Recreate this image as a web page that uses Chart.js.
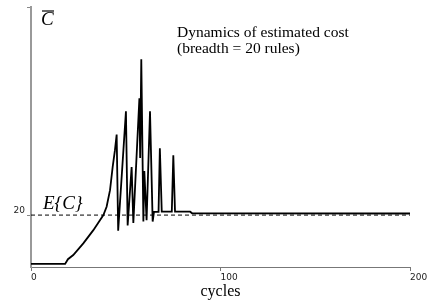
<!DOCTYPE html>
<html>
<head>
<meta charset="utf-8">
<title>Dynamics of estimated cost</title>
<script src="https://cdn.jsdelivr.net/npm/chart.js@4/dist/chart.umd.min.js"></script>
<style>
    html, body { margin: 0; padding: 0; background: #fff; }
    #chart-wrap { width: 429px; height: 306px; position: relative; }
</style>
</head>
<body>
<div id="chart-wrap"><canvas id="cost-chart"></canvas></div>
<script>
// Estimated cost per cycle (vertices)
const cycles = [0, 18, 19.5, 22.3, 27.6, 32.9, 38.2, 39.9, 41.7, 43.1, 44.3, 45.2,
    46.0, 50.1, 51.0, 53.1, 54.0, 57.2, 57.6, 58.2, 59.3, 59.8, 61.0, 62.8, 64.2,
    64.9, 67.3, 68.0, 69.0, 74.3, 75.1, 76.0, 84.0, 85.0, 200];
const costValues = [1.2, 1.2, 3.0, 4.6, 9.1, 14.2, 20.0, 23.2, 29.6, 38.6, 45.0, 51.0,
    14.0, 60.0, 16.0, 38.5, 17.0, 65.0, 42.0, 80.0, 17.5, 37.0, 18.0, 60.0, 17.5,
    21.2, 21.2, 45.7, 21.3, 21.3, 43.0, 21.3, 21.3, 20.7, 20.6];

// Expected cost E{C}
const expectedCycles = [0, 200];
const expectedValues = [20, 20];

// Axis ticks
const xTicks = [0, 100, 200];
const yTicks = [20, 100];
const yTickLabels = { 20: '20', 100: '' };

const titleLines = ['Dynamics of estimated cost', '(breadth = 20 rules)'];
const xAxisTitle = 'cycles';

document.addEventListener('DOMContentLoaded', () => {
    const ctx = document.getElementById('cost-chart').getContext('2d');

    const toPoints = (xs, ys) => xs.map((x, i) => ({ x: x, y: ys[i] }));

    // Text labels drawn onto the canvas
    const annotations = {
        id: 'annotations',
        afterDraw(chart) {
            const c = chart.ctx;
            c.save();
            c.fillStyle = '#000';
            c.strokeStyle = '#000';
            c.textBaseline = 'alphabetic';
            c.textAlign = 'left';

            // C with overline
            c.font = 'italic 19px "Liberation Serif"';
            c.fillText('C', 41, 25);
            c.lineWidth = 1.2;
            c.beginPath();
            c.moveTo(42, 11);
            c.lineTo(54, 11);
            c.stroke();

            // E{C}
            c.fillText('E{C}', 43, 209);

            // title
            c.font = '15.5px "Liberation Serif"';
            c.fillText(titleLines[0], 177, 37);
            c.fillText(titleLines[1], 177, 53);
            c.restore();
        }
    };

    new Chart(ctx, {
        type: 'line',
        data: {
            datasets: [
                {
                    label: 'Estimated cost',
                    data: toPoints(cycles, costValues),
                    borderColor: '#000',
                    borderWidth: 1.8,
                    pointRadius: 0,
                    tension: 0,
                    order: 1
                },
                {
                    label: 'E{C}',
                    data: toPoints(expectedCycles, expectedValues),
                    borderColor: '#000',
                    borderWidth: 1,
                    borderDash: [4, 3],
                    pointRadius: 0,
                    order: 2
                }
            ]
        },
        options: {
            responsive: true,
            maintainAspectRatio: false,
            animation: false,
            layout: { padding: { top: 7, right: 19, left: 0, bottom: 0 } },
            plugins: {
                legend: { display: false },
                tooltip: { enabled: false }
            },
            scales: {
                x: {
                    type: 'linear',
                    min: 0,
                    max: 200,
                    afterFit: (scale) => { scale.height = 39; },
                    afterBuildTicks: (scale) => { scale.ticks = xTicks.map(v => ({ value: v })); },
                    grid: {
                        drawOnChartArea: false,
                        drawTicks: true,
                        tickLength: 4,
                        color: '#777'
                    },
                    border: { color: '#777', width: 1 },
                    ticks: {
                        align: 'start',
                        padding: 1,
                        maxRotation: 0,
                        color: '#222',
                        font: { family: 'DejaVu Sans', size: 9 }
                    },
                    title: {
                        display: true,
                        text: xAxisTitle,
                        color: '#000',
                        font: { family: 'Liberation Serif', size: 16 },
                        padding: { top: 0, bottom: 5 }
                    }
                },
                y: {
                    type: 'linear',
                    min: 0,
                    max: 100,
                    afterFit: (scale) => { scale.width = 31; },
                    afterBuildTicks: (scale) => { scale.ticks = yTicks.map(v => ({ value: v })); },
                    grid: {
                        drawOnChartArea: false,
                        drawTicks: true,
                        tickLength: 4,
                        color: '#888'
                    },
                    border: { color: '#999', width: 2 },
                    ticks: {
                        padding: 2,
                        labelOffset: -4,
                        color: '#222',
                        font: { family: 'DejaVu Sans', size: 9 },
                        callback: (value) => yTickLabels[value]
                    }
                }
            }
        },
        plugins: [annotations]
    });
});
</script>
</body>
</html>
